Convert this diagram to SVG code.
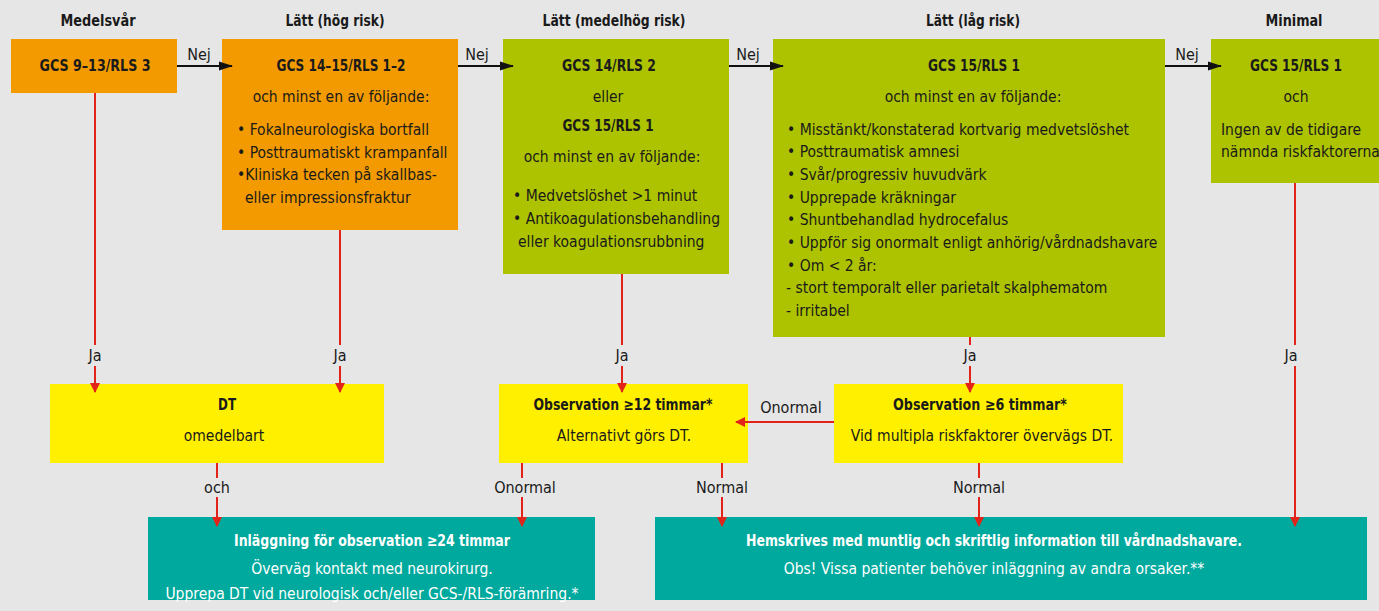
<svg xmlns="http://www.w3.org/2000/svg" width="1379" height="611" viewBox="0 0 1379 611">
<style>
text{font-family:"Liberation Sans Narrow","DejaVu Sans Condensed","Roboto","Liberation Sans",sans-serif;font-size:15.5px;fill:#1a1a1a}
.b{font-weight:bold;font-size:16px}
.c{text-anchor:middle}
.w{fill:#ffffff}
.or{fill:#f29a00}
.gr{fill:#adc300}
.ye{fill:#fff000}
.te{fill:#00a99d}
.red{stroke:#e2231a;stroke-width:2;fill:none}
.blk{stroke:#111;stroke-width:2;fill:none}
.lbl{font-size:16px}
</style>
<defs>
<marker id="ar" markerWidth="10" markerHeight="16" refX="9" refY="8" orient="auto" markerUnits="userSpaceOnUse"><path d="M0,3 L10,8 L0,13 z" fill="#e2231a"/></marker>
<marker id="ab" markerWidth="14" markerHeight="12" refX="13" refY="6" orient="auto" markerUnits="userSpaceOnUse"><path d="M0,1.5 L14,6 L0,10.5 z" fill="#111"/></marker>
</defs>
<rect x="0" y="0" width="1379" height="611" fill="#e6e6e6"/>
<g id="headers">
<text class="b c" x="98" y="26" textLength="75" lengthAdjust="spacingAndGlyphs">Medelsvår</text>
<text class="b c" x="335" y="26" textLength="99" lengthAdjust="spacingAndGlyphs">Lätt (hög risk)</text>
<text class="b c" x="614" y="26" textLength="143" lengthAdjust="spacingAndGlyphs">Lätt (medelhög risk)</text>
<text class="b c" x="973" y="26" textLength="94" lengthAdjust="spacingAndGlyphs">Lätt (låg risk)</text>
<text class="b c" x="1294" y="26" textLength="57" lengthAdjust="spacingAndGlyphs">Minimal</text>
</g>
<g id="n1">
<rect class="or" x="11" y="39" width="166" height="54"/>
<text class="b c" x="95" y="71" textLength="111" lengthAdjust="spacingAndGlyphs">GCS 9–13/RLS 3</text>
</g>
<g id="n2">
<rect class="or" x="222" y="39" width="236" height="191"/>
<text class="b c" x="341" y="71" textLength="129" lengthAdjust="spacingAndGlyphs">GCS 14–15/RLS 1–2</text>
<text class="c" x="341" y="102">och minst en av följande:</text>
<text x="237" y="135">• Fokalneurologiska bortfall</text>
<text x="237" y="158">• Posttraumatiskt krampanfall</text>
<text x="237" y="180">•Kliniska tecken på skallbas-</text>
<text x="245" y="203">eller impressionsfraktur</text>
</g>
<g id="n3">
<rect class="gr" x="503" y="39" width="226" height="235"/>
<text class="b c" x="609" y="71" textLength="94" lengthAdjust="spacingAndGlyphs">GCS 14/RLS 2</text>
<text class="c" x="608" y="102">eller</text>
<text class="b c" x="608" y="131" textLength="91" lengthAdjust="spacingAndGlyphs">GCS 15/RLS 1</text>
<text class="c" x="612" y="162">och minst en av följande:</text>
<text x="513" y="201">• Medvetslöshet &gt;1 minut</text>
<text x="513" y="224">• Antikoagulationsbehandling</text>
<text x="518" y="247">eller koagulationsrubbning</text>
</g>
<g id="n4">
<rect class="gr" x="773" y="39" width="392" height="298"/>
<text class="b c" x="974" y="71" textLength="92" lengthAdjust="spacingAndGlyphs">GCS 15/RLS 1</text>
<text class="c" x="973" y="102">och minst en av följande:</text>
<text x="787" y="135">• Misstänkt/konstaterad kortvarig medvetslöshet</text>
<text x="787" y="157">• Posttraumatisk amnesi</text>
<text x="787" y="180">• Svår/progressiv huvudvärk</text>
<text x="787" y="203">• Upprepade kräkningar</text>
<text x="787" y="225">• Shuntbehandlad hydrocefalus</text>
<text x="787" y="248">• Uppför sig onormalt enligt anhörig/vårdnadshavare</text>
<text x="787" y="271">• Om &lt; 2 år:</text>
<text x="786" y="293">- stort temporalt eller parietalt skalphematom</text>
<text x="786" y="316">- irritabel</text>
</g>
<g id="n5">
<rect class="gr" x="1211" y="39" width="180" height="144"/>
<text class="b c" x="1296" y="71" textLength="92" lengthAdjust="spacingAndGlyphs">GCS 15/RLS 1</text>
<text class="c" x="1296" y="102">och</text>
<text x="1221" y="135">Ingen av de tidigare</text>
<text x="1221" y="157">nämnda riskfaktorerna</text>
</g>
<g id="dt">
<rect class="ye" x="50" y="384" width="334" height="79"/>
<text class="b c" x="227" y="410" textLength="18" lengthAdjust="spacingAndGlyphs">DT</text>
<text class="c" x="224" y="441">omedelbart</text>
</g>
<g id="obs12">
<rect class="ye" x="499" y="384" width="249" height="79"/>
<text class="b c" x="623" y="410" textLength="179" lengthAdjust="spacingAndGlyphs">Observation ≥12 timmar*</text>
<text class="c" x="624" y="441">Alternativt görs DT.</text>
</g>
<g id="obs6">
<rect class="ye" x="834" y="384" width="289" height="79"/>
<text class="b c" x="980" y="410" textLength="174" lengthAdjust="spacingAndGlyphs">Observation ≥6 timmar*</text>
<text class="c" x="982" y="441">Vid multipla riskfaktorer övervägs DT.</text>
</g>
<g id="inlagg">
<rect class="te" x="148" y="517" width="447" height="83"/>
<text class="b c w" x="372" y="546" textLength="276" lengthAdjust="spacingAndGlyphs">Inläggning för observation ≥24 timmar</text>
<text class="c w" x="372" y="574">Överväg kontakt med neurokirurg.</text>
<text class="c w" x="372" y="599">Upprepa DT vid neurologisk och/eller GCS-/RLS-förämring.*</text>
</g>
<g id="hem">
<rect class="te" x="655" y="517" width="712" height="83"/>
<text class="b c w" x="994" y="546" textLength="496" lengthAdjust="spacingAndGlyphs">Hemskrives med muntlig och skriftlig information till vårdnadshavare.</text>
<text class="c w" x="994" y="574">Obs! Vissa patienter behöver inläggning av andra orsaker.**</text>
</g>
<g id="connectors">
<line class="blk" x1="177" y1="66" x2="232" y2="66" marker-end="url(#ab)"/>
<line class="blk" x1="458" y1="66" x2="513" y2="66" marker-end="url(#ab)"/>
<line class="blk" x1="729" y1="66" x2="783" y2="66" marker-end="url(#ab)"/>
<line class="blk" x1="1165" y1="66" x2="1221" y2="66" marker-end="url(#ab)"/>
<line class="red" x1="95" y1="93" x2="95" y2="345"/>
<line class="red" x1="95" y1="366" x2="95" y2="392" marker-end="url(#ar)"/>
<line class="red" x1="340" y1="230" x2="340" y2="345"/>
<line class="red" x1="340" y1="366" x2="340" y2="392" marker-end="url(#ar)"/>
<line class="red" x1="622" y1="274" x2="622" y2="345"/>
<line class="red" x1="622" y1="366" x2="622" y2="392" marker-end="url(#ar)"/>
<line class="red" x1="970" y1="337" x2="970" y2="345"/>
<line class="red" x1="970" y1="366" x2="970" y2="392" marker-end="url(#ar)"/>
<line class="red" x1="1295" y1="183" x2="1295" y2="345"/>
<line class="red" x1="1295" y1="366" x2="1295" y2="526" marker-end="url(#ar)"/>
<line class="red" x1="217" y1="463" x2="217" y2="478"/>
<line class="red" x1="217" y1="497" x2="217" y2="526" marker-end="url(#ar)"/>
<line class="red" x1="522" y1="463" x2="522" y2="478"/>
<line class="red" x1="522" y1="497" x2="522" y2="526" marker-end="url(#ar)"/>
<line class="red" x1="722" y1="463" x2="722" y2="478"/>
<line class="red" x1="722" y1="497" x2="722" y2="526" marker-end="url(#ar)"/>
<line class="red" x1="979" y1="463" x2="979" y2="478"/>
<line class="red" x1="979" y1="497" x2="979" y2="526" marker-end="url(#ar)"/>
<line class="red" x1="834" y1="422" x2="736" y2="422" marker-end="url(#ar)"/>
<text class="c lbl" x="199" y="60">Nej</text>
<text class="c lbl" x="477" y="60">Nej</text>
<text class="c lbl" x="748" y="60">Nej</text>
<text class="c lbl" x="1187" y="60">Nej</text>
<text class="c lbl" x="95" y="361">Ja</text>
<text class="c lbl" x="340" y="361">Ja</text>
<text class="c lbl" x="622" y="361">Ja</text>
<text class="c lbl" x="970" y="361">Ja</text>
<text class="c lbl" x="1291" y="361">Ja</text>
<text class="c lbl" x="217" y="493">och</text>
<text class="c lbl" x="525" y="493">Onormal</text>
<text class="c lbl" x="722" y="493">Normal</text>
<text class="c lbl" x="979" y="493">Normal</text>
<text class="c lbl" x="791" y="413">Onormal</text>
</g>
</svg>
